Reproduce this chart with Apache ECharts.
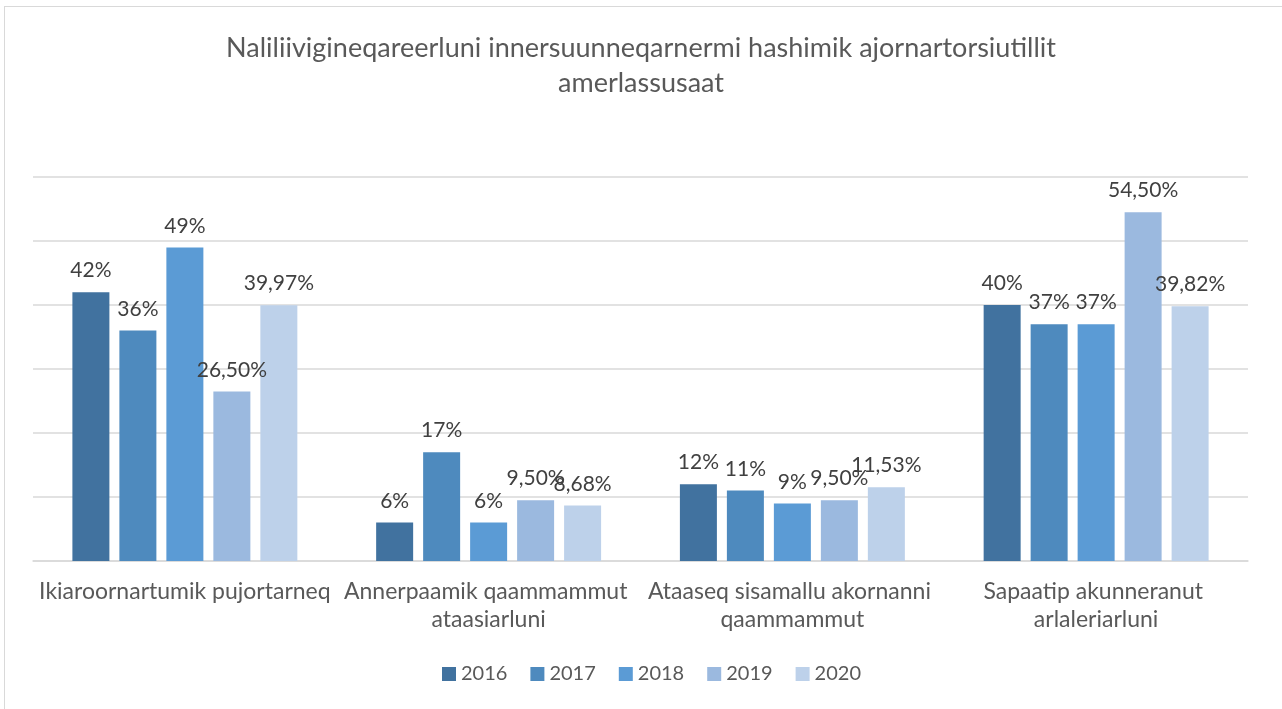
<!DOCTYPE html>
<html>
<head>
<meta charset="utf-8">
<script src="https://cdn.jsdelivr.net/npm/echarts@6/dist/echarts.min.js"></script>
<style>
    html, body { margin: 0; padding: 0; background: #fff; }
    #frame { position: absolute; left: 4px; top: 6px; width: 1400px; height: 800px; border: 1px solid #D9D9D9; }
    #chart { position: absolute; left: 0; top: 0; width: 1282px; height: 709px; }
</style>
</head>
<body>
<div id="frame"></div>
<div id="chart"></div>
<script>
// 分类与各年份数据(百分比)
var categories = ['Ikiaroornartumik pujortarneq', 'Annerpaamik qaammammut ataasiarluni', 'Ataaseq sisamallu akornanni qaammammut', 'Sapaatip akunneranut arlaleriarluni'];
var years = ['2016', '2017', '2018', '2019', '2020'];
var values_2016 = [42, 6, 12, 40];
var values_2017 = [36, 17, 11, 37];
var values_2018 = [49, 6, 9, 37];
var values_2019 = [26.5, 9.5, 9.5, 54.5];
var values_2020 = [39.97, 8.68, 11.53, 39.82];
var colors = ['#41729F', '#4E8ABE', '#5B9BD5', '#9BB9DF', '#BDD1EA'];

var font_name = 'Lato';

/**
 * 数据标签格式: 42% / 26,50%
 */
function formatPercent(v) {
    if (Math.round(v) === v) {
        return v + '%';
    }
    return v.toFixed(2).replace('.', ',') + '%';
}

var all_values = [values_2016, values_2017, values_2018, values_2019, values_2020];
var series = [];
for (var i = 0; i < years.length; i++) {
    series.push({
        name: years[i],
        type: 'bar',
        data: all_values[i],
        barWidth: 37,
        barGap: '27%',
        itemStyle: { color: colors[i] },
        label: {
            show: true,
            position: 'top',
            distance: 11,
            color: '#404040',
            fontFamily: font_name,
            fontSize: 21,
            formatter: function(p) { return formatPercent(p.value); }
        }
    });
}

var chart = echarts.init(document.getElementById('chart'));
var option = {
    animation: false,
    title: {
        text: 'Naliliivigineqareerluni innersuunneqarnermi hashimik ajornartorsiutillit\namerlassusaat',
        left: 'center',
        top: 26,
        textStyle: {
            color: '#595959',
            fontFamily: font_name,
            fontWeight: 'normal',
            fontSize: 27,
            lineHeight: 35
        }
    },
    legend: {
        data: years,
        bottom: 20,
        left: 437,
        itemWidth: 14,
        itemHeight: 14,
        itemGap: 23,
        icon: 'rect',
        textStyle: {
            color: '#595959',
            fontFamily: font_name,
            fontSize: 20
        }
    },
    grid: {
        left: 33,
        right: 34,
        top: 177,
        bottom: 148
    },
    xAxis: {
        type: 'category',
        data: categories,
        axisLine: { lineStyle: { color: '#D9D9D9', width: 1.5 } },
        axisTick: { show: false },
        axisLabel: {
            interval: 0,
            margin: 17,
            color: '#595959',
            fontFamily: font_name,
            fontSize: 23,
            lineHeight: 28,
            width: 300,
            overflow: 'break'
        }
    },
    yAxis: {
        type: 'value',
        min: 0,
        max: 60,
        interval: 10,
        axisLabel: { show: false },
        axisLine: { show: false },
        axisTick: { show: false },
        splitLine: { lineStyle: { color: '#D9D9D9', width: 1.5 } }
    },
    series: series
};
chart.setOption(option);
</script>
</body>
</html>
